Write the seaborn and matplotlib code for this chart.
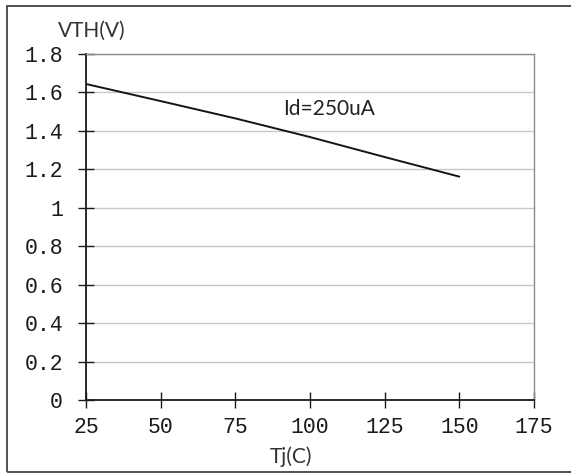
import matplotlib
matplotlib.use("Agg")
import matplotlib.pyplot as plt
import seaborn as sns
import pandas as pd
from matplotlib.patches import Rectangle

# ── Data ──────────────────────────────────────────────────────────────────────
tj = [25, 50, 75, 100, 125, 150]
vth = [1.644, 1.555, 1.465, 1.368, 1.264, 1.162]

x_ticks = [25, 50, 75, 100, 125, 150, 175]
y_ticks = [0, 0.2, 0.4, 0.6, 0.8, 1.0, 1.2, 1.4, 1.6, 1.8]
y_tick_labels = ["0", "0.2", "0.4", "0.6", "0.8", "1", "1.2", "1.4", "1.6", "1.8"]

note = "Id=250uA"
x_label = "Tj(C)"
y_label = "VTH(V)"

df = pd.DataFrame({"tj": tj, "vth": vth})

# ── Style ─────────────────────────────────────────────────────────────────────
sns.set_style("white")
plt.rcParams["font.family"] = ["Lato", "DejaVu Sans"]

TICK_FONT = "Liberation Mono"

fig = plt.figure(figsize=(5.71, 4.74), dpi=100)
ax = fig.add_axes([86 / 571, 74 / 474, 448 / 571, 346 / 474])

sns.lineplot(data=df, x="tj", y="vth", color="#151515", linewidth=1.4, ax=ax)

ax.set_xlim(25, 175)
ax.set_ylim(0, 1.8)
ax.set_xticks(x_ticks)
ax.set_xticklabels([str(t) for t in x_ticks], fontfamily=TICK_FONT, fontsize=15.5)
ax.set_yticks(y_ticks)
ax.set_yticklabels(y_tick_labels, fontfamily=TICK_FONT, fontsize=15.5)

ax.tick_params(axis="both", direction="inout", length=11, width=1.0,
               color="#1a1a1a", labelcolor="#1a1a1a",
               bottom=True, left=True, top=False, right=False)
ax.tick_params(axis="y", pad=11)
ax.tick_params(axis="x", pad=7)

ax.yaxis.grid(True, color="#c8c8c8", linewidth=1.0)
ax.xaxis.grid(False)
ax.set_axisbelow(True)

for side in ["left", "bottom"]:
    ax.spines[side].set_color("#1a1a1a")
    ax.spines[side].set_linewidth(1.3)
for side in ["top", "right"]:
    ax.spines[side].set_color("#8c8c8c")
    ax.spines[side].set_linewidth(1.0)

ax.set_xlabel(x_label, fontsize=15, color="#333333", va="center")
ax.set_ylabel(y_label, fontsize=15, color="#333333", rotation=0,
              ha="center", va="center")
ax.xaxis.set_label_coords(0.458, -0.165)
ax.yaxis.set_label_coords(0.013, 1.066)

ax.text(0.542, 0.840, note, transform=ax.transAxes, fontsize=15,
        color="#222222", ha="center", va="center")

# outer frame of the screenshot
fig.patches.append(Rectangle((7 / 571, 2 / 474), 1.2, 466 / 474,
                             transform=fig.transFigure, fill=False,
                             edgecolor="#444444", linewidth=1.3))

fig.savefig("out.png", dpi=100)
